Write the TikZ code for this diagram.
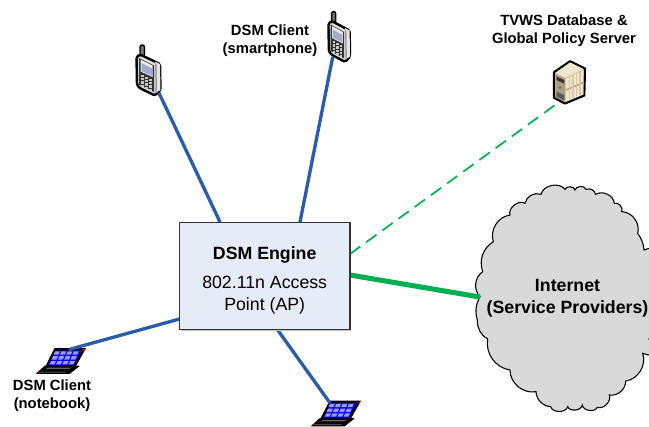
\documentclass[tikz,border=0pt]{standalone}
\usepackage{fontspec}
\setmainfont{Liberation Sans}
\definecolor{linkblue}{HTML}{2A5CAA}
\definecolor{linkgreen}{HTML}{00B050}
\definecolor{boxfill}{HTML}{E6ECF7}
\definecolor{cloudfill}{HTML}{D9D9D9}
\definecolor{cream}{HTML}{EFE6CF}
\definecolor{tan}{HTML}{D8C9A6}
\definecolor{tandark}{HTML}{B5A582}
\tikzset{
  x=0.75pt,y=-0.75pt,
  clientlink/.style={draw=linkblue,line width=2.5pt},
  wanlink/.style={draw=linkgreen,line width=3.8pt},
  dblink/.style={draw=linkgreen,line width=1.3pt,dash pattern=on 9.5pt off 5.5pt},
  bigbold/.style={font=\fontsize{13.3}{16.3}\selectfont\bfseries,align=center,inner sep=0pt},
  smallbold/.style={font=\fontsize{11.1}{13.5}\selectfont\bfseries,align=center,inner sep=0pt},
  enginebox/.style={draw=black!80,line width=0.9pt,fill=boxfill,minimum width=128pt,minimum height=80.2pt,inner sep=0pt,align=center,font=\fontsize{13.3}{16.3}\selectfont},
  cloudshape/.style={draw=black,line width=0.8pt,fill=cloudfill},
  phoneicon/.pic={
    \draw[black,line width=1pt,fill=black!55,rounded corners=1.5] (4,0) rectangle (8.5,12);
    \draw[black,line width=1.8pt,fill=black!12,line join=round,rounded corners=1.2] (0.5,12) -- (4,9.5) -- (24,19) -- (24.5,45) -- (19,50.5) -- (3.5,43) -- (1,40) -- cycle;
    \fill[black!10] (19,16.5) -- (24,19) -- (24.5,45) -- (19.5,48) -- cycle;
    \fill[black!40] (19,18) -- (20.5,19) -- (21,47.5) -- (19.5,48) -- cycle;
    \fill[black!80] (3,13) -- (18,20.5) -- (18,47) -- (3,39.5) -- cycle;
    \fill[black!8] (4.5,14.5) -- (16.5,20.5) -- (16.5,32) -- (4.5,26.5) -- cycle;
    \fill[blue!25!gray!55] (5.5,18) -- (16,23.5) -- (16,31) -- (5.5,26) -- cycle;
    \foreach \u in {0,1,2}{\foreach \v in {0,1,2,3}{
      \fill[black!22] ({5.2+4*\u},{29.5+2*\u+3.4*\v}) rectangle ++(2.8,2.2);}}
  },
  laptopicon/.pic={
    \fill[black] (18.5,-0.8) -- (50,-0.8) -- (39.5,18) -- (9,18) -- cycle;
    \draw[black,line width=0.6pt,fill=black,line join=round] (9,17) -- (43,17) -- (33.5,24.5) -- (0.7,24.5) -- cycle;
    \fill[black!60] (12,18.5) -- (36,18.5) -- (33,20) -- (10,20) -- cycle;
    \fill[black!70] (3,22.5) -- (31,22.5) -- (30,23.6) -- (2,23.6) -- cycle;
    \fill[red!80!black] (47,0.4) rectangle ++(1.6,1.4);
    \fill[red!80!black] (3,23) rectangle ++(2,1);
    \fill[blue!95!black] (19.5,1.5) -- (45.5,1.5) -- (37.3,16.3) -- (12.5,16.3) -- cycle;
    \foreach \u in {0,1,2,3}{\foreach \v in {0,1,2}{
      \fill[blue!40!white] ({18.4-1.9*\v+6.3*\u+0.7},{2.4+4.8*\v})
        -- ++(4.8,0) -- ++(-1.6,3.3) -- ++(-4.8,0) -- cycle;}}
  },
  servericon/.pic={
    \draw[black,line width=1.6pt,fill=tan,line join=round] (16,0.7) -- (31,8) -- (30.3,35) -- (11,43) -- (0,37.3) -- (0,11.7) -- cycle;
    \fill[cream] (16,2) -- (29.5,8.5) -- (11,17) -- (1.5,12.5) -- cycle;
    \fill[black!22!tan] (1.5,13.5) -- (11,18) -- (11,41.5) -- (1.5,36.5) -- cycle;
    \fill[black!80] (2.5,16) -- (10,19.5) -- (10,23) -- (2.5,19.5) -- cycle;
    \fill[black!65] (2.5,31) -- (10,34.5) -- (10,40) -- (2.5,36) -- cycle;
    \fill[black!60] (6,27) circle (1.3);
    \fill[cream] (12,18.5) -- (29.5,10) -- (29.3,33.8) -- (12,41) -- cycle;
    \draw[tandark,line width=1.2pt] (12,29.5) -- (29.4,22);
    \foreach \u in {15.5,19,22.5,26}{\draw[tan,line width=0.9pt] (\u,{18.2-(\u-12)*0.48}) -- (\u,{40-(\u-12)*0.42});}
  }
}
\begin{document}
\begin{tikzpicture}
\useasboundingbox (0,0) rectangle (649,426);
\clip (0,0) rectangle (649,426);
% cloud
\begin{scope}[shift={(460,150)},x=0.25pt,y=-0.25pt]
\path[cloudshape] (68,365) to[bend left=38] (100,275) to[bend left=50] (150,195)
  to[bend left=70] (195,160) to[bend left=50] (243,133) to[bend left=65] (315,118)
  to[bend left=80] (345,120) to[bend left=80] (378,118) to[bend left=50] (407,133)
  to[bend left=58] (463,160) to[bend left=70] (485,185) to[bend left=52] (533,250)
  to[bend left=15] (552,300) to[bend left=30] (600,305) -- (600,565) -- (565,567) -- (600,570)
  -- (600,604) to[bend left=30] (548,610) to[bend left=50] (497,693) to[bend left=50] (448,735)
  to[bend left=65] (412,772) to[bend left=75] (367,765) to[bend left=75] (323,770)
  to[bend left=75] (272,770) to[bend left=40] (228,725) to[bend left=50] (150,660)
  to[bend left=45] (83,567) to[bend left=30] (52,510) to[bend left=22] (60,440)
  to[bend left=50] (68,365) -- cycle;
\end{scope}
\node[bigbold] (internet) at (567.5,298) {Internet\\(Service Providers)};
% connector ends
\coordinate (phoneA) at (159,93);
\coordinate (phoneB) at (332.7,57);
\coordinate (noteA) at (69,349.5);
\coordinate (noteB) at (330,403);
\coordinate (server) at (555,105);
\coordinate (cloudport) at (480,297);
\coordinate (engA) at (220,222);
\coordinate (engB) at (300,222);
\coordinate (engC) at (179.5,319);
\coordinate (engD) at (277,329);
\coordinate (engE) at (350,254);
\coordinate (engF) at (350,275);
% icons
\pic at (136,45) {phoneicon};
\pic[xscale=0.9] at (328,11.5) {phoneicon};
\pic at (554,60.5) {servericon};
\pic at (36,349) {laptopicon};
\pic at (311,401.4) {laptopicon};
% links
\draw[clientlink] (phoneA) -- (engA);
\draw[clientlink] (phoneB) -- (engB);
\draw[clientlink] (noteA) -- (engC);
\draw[clientlink] (noteB) -- (engD);
\draw[dblink] (engE) -- (server);
\draw[wanlink] (engF) -- (cloudport);
% engine
\fill[black!25] (180.5,223.5) rectangle (351.3,330.8);
\node[enginebox] (engine) at (264.7,275.8) {\rule{0pt}{16.6pt}\textbf{DSM Engine}\\[5.45pt]802.11n Access\\Point (AP)};
% labels
\node[smallbold] (smartlabel) at (270,40.2) {DSM Client\\(smartphone)};
\node[smallbold] (tvws) at (564,30.5) {TVWS Database \&\\Global Policy Server};
\node[smallbold] (notelabel) at (52,395.7) {DSM Client\\(notebook)};
\end{tikzpicture}
\end{document}
